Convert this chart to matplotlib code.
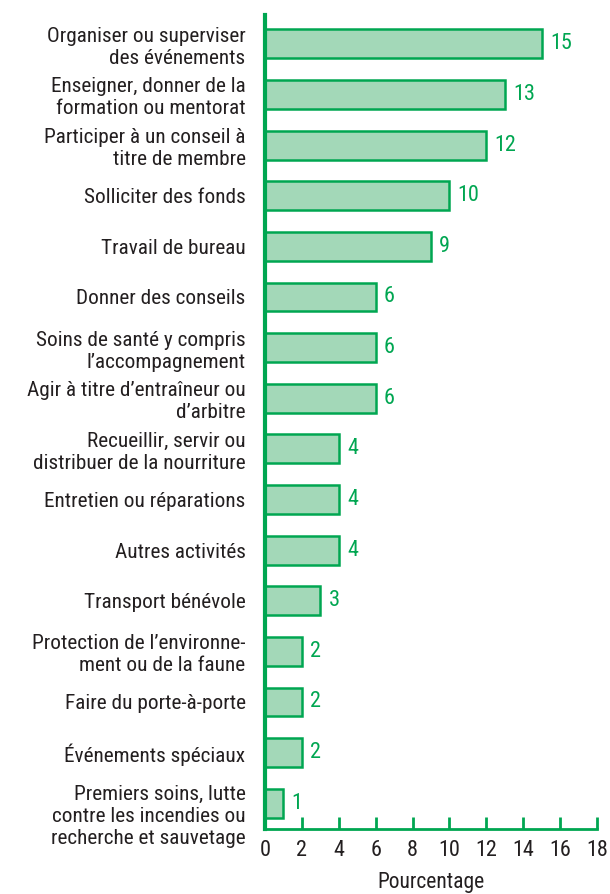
import matplotlib
matplotlib.use("Agg")
import matplotlib.pyplot as plt
from matplotlib.transforms import ScaledTranslation

categories = [
    "Organiser ou superviser\ndes événements",
    "Enseigner, donner de la\nformation ou mentorat",
    "Participer à un conseil à\ntitre de membre",
    "Solliciter des fonds",
    "Travail de bureau",
    "Donner des conseils",
    "Soins de santé y compris\nl’accompagnement",
    "Agir à titre d’entraîneur ou\nd’arbitre",
    "Recueillir, servir ou\ndistribuer de la nourriture",
    "Entretien ou réparations",
    "Autres activités",
    "Transport bénévole",
    "Protection de l’environne-\nment ou de la faune",
    "Faire du porte-à-porte",
    "Événements spéciaux",
    "Premiers soins, lutte\ncontre les incendies ou\nrecherche et sauvetage",
]
values = [15, 13, 12, 10, 9, 6, 6, 6, 4, 4, 4, 3, 2, 2, 2, 1]
xticks = [0, 2, 4, 6, 8, 10, 12, 14, 16, 18]
xlabel = "Pourcentage"

plt.rcParams["font.family"] = ["Roboto Condensed", "DejaVu Sans"]

GREEN = "#00A651"
FILL = "#A3D8B8"
TEXT = "#231F20"

fig = plt.figure(figsize=(6.10, 8.94), dpi=100)
ax = fig.add_axes([0.4344, 0.0727, 0.5443, 0.9105])

y = list(range(len(values)))
ax.barh(y, values, height=0.57, color=FILL, edgecolor=GREEN, linewidth=1.8, zorder=2)
for yi, v in zip(y, values):
    ax.text(v + 0.45, yi, str(v), va="center", ha="left", color=GREEN, fontsize=16)

ax.set_ylim(15.51, -0.57)
ax.set_xlim(0, 18)
ax.set_yticks(y)
ax.set_yticklabels(categories, fontsize=15.3, color=TEXT, linespacing=1.2)
ax.tick_params(axis="y", length=0, pad=14)
ax.set_xticks(xticks)
ax.set_xticklabels([str(t) for t in xticks], fontsize=16, color=TEXT)
ax.tick_params(axis="x", direction="in", length=9, width=2, color=GREEN, pad=8)
ax.set_xlabel(xlabel, fontsize=15.5, color=TEXT, labelpad=8)

# last (three-line) label sits slightly lower in the reference
last = ax.get_yticklabels()[-1]
last.set_transform(last.get_transform() + ScaledTranslation(0, -10 / 100, fig.dpi_scale_trans))

for s in ["top", "right"]:
    ax.spines[s].set_visible(False)
ax.spines["left"].set_color(GREEN)
ax.spines["left"].set_linewidth(3)
ax.spines["bottom"].set_color(GREEN)
ax.spines["bottom"].set_linewidth(2)

fig.savefig("out.png", dpi=100)
